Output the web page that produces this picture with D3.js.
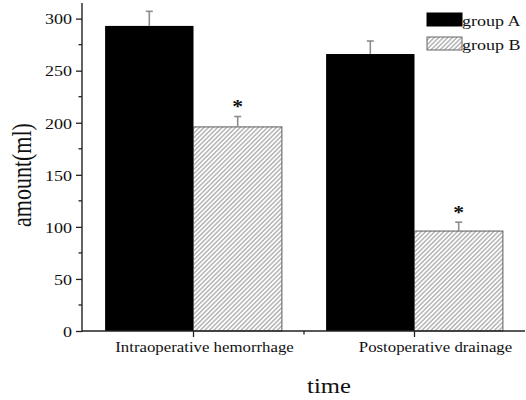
<!DOCTYPE html>
<html>
<head>
<meta charset="utf-8">
<script src="https://cdn.jsdelivr.net/npm/d3@7"></script>
<style>
  html, body { margin: 0; padding: 0; background: #fff; }
  svg { display: block; }
  text { font-family: "Liberation Serif", "Times New Roman", serif; fill: #111; }
</style>
</head>
<body>
<script>
// ---- data ----
const categories = ["Intraoperative hemorrhage", "Postoperative drainage"];
const seriesNames = ["group A", "group B"];
const groupA = [293, 266];
const groupAErr = [14, 12.5];
const groupB = [196, 96];
const groupBErr = [10, 8.5];
const groupBSignificant = [true, true];
const yTicks = [0, 50, 100, 150, 200, 250, 300];
const yMinorTicks = [25, 75, 125, 175, 225, 275];
const xLabel = "time";
const yLabel = "amount(ml)";

// ---- layout ----
const W = 526, H = 400;
const SX = 1.2; // horizontal stretch of text in the reference
const svg = d3.select("body").append("svg").attr("width", W).attr("height", H);

const x = d3.scaleLinear().domain([0.5, 2.5]).range([83, 525]);
const y = d3.scaleLinear().domain([0, 315]).range([331, 3]);
const barW = 0.4;
const axisColor = "#222";

// hatch pattern
const defs = svg.append("defs");
const pat = defs.append("pattern")
  .attr("id", "hatch").attr("patternUnits", "userSpaceOnUse")
  .attr("width", 3.2).attr("height", 3.2)
  .attr("patternTransform", "rotate(45)");
pat.append("rect").attr("width", 3.2).attr("height", 3.2).attr("fill", "#fff");
pat.append("line").attr("x1", 0.8).attr("y1", 0).attr("x2", 0.8).attr("y2", 3.2)
  .attr("stroke", "#999").attr("stroke-width", 1.1);

// bars
const idx = categories.map((c, i) => i);
svg.selectAll("rect.a").data(idx).enter().append("rect")
  .attr("x", i => x(i + 1 - barW))
  .attr("y", i => y(groupA[i]))
  .attr("width", i => x(i + 1) - x(i + 1 - barW))
  .attr("height", i => y(0) - y(groupA[i]))
  .attr("fill", "#000");

svg.selectAll("rect.b").data(idx).enter().append("rect")
  .attr("x", i => x(i + 1))
  .attr("y", i => y(groupB[i]))
  .attr("width", i => x(i + 1 + barW) - x(i + 1))
  .attr("height", i => y(0) - y(groupB[i]))
  .attr("fill", "url(#hatch)")
  .attr("stroke", "#5a5a5a").attr("stroke-width", 1);

// error bars (upper only)
function errBars(vals, errs, offset) {
  const g = svg.append("g").attr("stroke", "#8c8c8c").attr("stroke-width", 1.6);
  idx.forEach(i => {
    const cx = x(i + 1 + offset);
    g.append("line").attr("x1", cx).attr("x2", cx)
      .attr("y1", y(vals[i])).attr("y2", y(vals[i] + errs[i]));
    g.append("line").attr("x1", cx - 3.5).attr("x2", cx + 3.5)
      .attr("y1", y(vals[i] + errs[i])).attr("y2", y(vals[i] + errs[i]));
  });
}
errBars(groupA, groupAErr, -barW / 2);
errBars(groupB, groupBErr, barW / 2);

// significance stars
idx.filter(i => groupBSignificant[i]).forEach(i => {
  const cx = x(i + 1 + barW / 2), cy = y(groupB[i] + groupBErr[i]) - 3;
  svg.append("text")
    .attr("transform", `translate(${cx},${cy}) scale(${SX},1)`)
    .attr("text-anchor", "middle")
    .attr("font-size", 18).attr("font-weight", "bold")
    .text("*");
});

// y axis
const yAxis = svg.append("g").attr("transform", `translate(${x(0.5) - 1},0)`)
  .call(d3.axisLeft(y).tickValues(yTicks).tickSize(6).tickPadding(4).tickSizeOuter(0));
yAxis.select(".domain").attr("stroke", axisColor).attr("stroke-width", 1.4)
  .attr("d", `M0,${y(0) + 1}V${y(315)}`);
yAxis.selectAll(".tick line").attr("stroke", axisColor).attr("stroke-width", 1.3);
yAxis.selectAll(".tick text")
  .attr("font-size", 15).attr("font-family", "Liberation Serif").attr("fill", "#333")
  .attr("x", null).attr("dy", "0.35em")
  .attr("transform", `translate(-10,0) scale(${SX},1)`);
yAxis.selectAll("line.minor").data(yMinorTicks).enter().append("line")
  .attr("class", "minor")
  .attr("x1", -3.5).attr("x2", 0)
  .attr("y1", d => y(d)).attr("y2", d => y(d))
  .attr("stroke", axisColor).attr("stroke-width", 1.3);

// x axis
const xAxisG = svg.append("g").attr("transform", `translate(0,${y(0)})`);
xAxisG.append("line").attr("x1", x(0.5) - 1).attr("x2", x(2.5))
  .attr("y1", 0).attr("y2", 0).attr("stroke", axisColor).attr("stroke-width", 1.4);
xAxisG.selectAll("line.maj").data(idx).enter().append("line")
  .attr("x1", i => x(i + 1)).attr("x2", i => x(i + 1))
  .attr("y1", 0).attr("y2", 6).attr("stroke", axisColor).attr("stroke-width", 1.3);
xAxisG.selectAll("line.min").data([1.5]).enter().append("line")
  .attr("x1", d => x(d)).attr("x2", d => x(d))
  .attr("y1", 0).attr("y2", 3.5).attr("stroke", axisColor).attr("stroke-width", 1.3);

const labelDx = [11, 21];
xAxisG.selectAll("text.cat").data(idx).enter().append("text")
  .attr("transform", i => `translate(${x(i + 1) + labelDx[i]},21) scale(${SX},1)`)
  .attr("text-anchor", "middle").attr("font-size", 14).attr("fill", "#222")
  .text(i => categories[i]);

// axis titles
svg.append("text")
  .attr("transform", `translate(329,393) scale(1.12,1)`)
  .attr("text-anchor", "middle").attr("font-size", 22).attr("fill", "#111")
  .text(xLabel);
svg.append("text")
  .attr("transform", `translate(31,175) scale(${SX},1) rotate(-90)`)
  .attr("text-anchor", "middle").attr("font-size", 22).attr("fill", "#111")
  .text(yLabel);

// legend
const legend = svg.append("g");
seriesNames.forEach((name, i) => {
  const ly = 13 + i * 24;
  legend.append("rect").attr("x", 427).attr("y", ly).attr("width", 35).attr("height", 13)
    .attr("fill", i === 0 ? "#000" : "url(#hatch)")
    .attr("stroke", i === 0 ? "#000" : "#666").attr("stroke-width", 1);
  legend.append("text")
    .attr("transform", `translate(462,${ly + 13}) scale(${SX},1)`)
    .attr("font-size", 15).attr("fill", "#111")
    .text(name);
});
</script>
</body>
</html>
